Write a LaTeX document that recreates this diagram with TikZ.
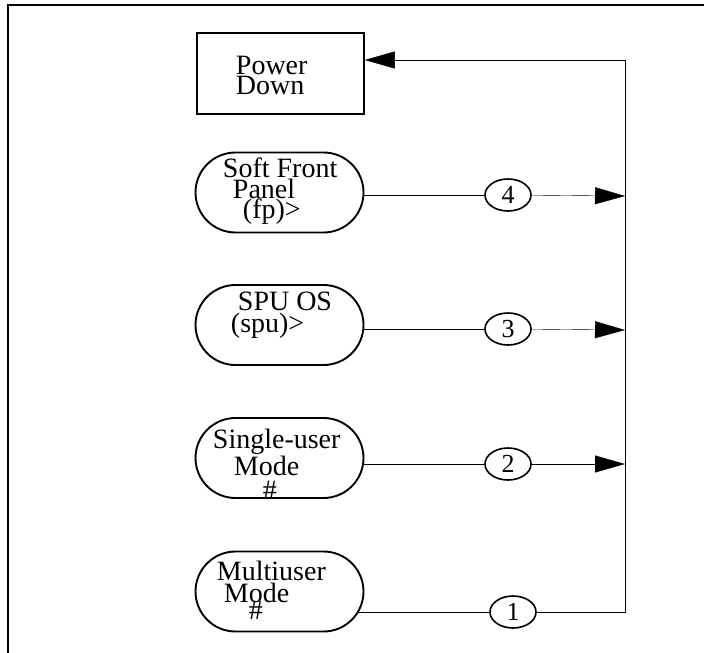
\documentclass[tikz,border=0pt]{standalone}
\usepackage{fontspec}
\setmainfont{Liberation Serif}
\usetikzlibrary{arrows.meta,shapes.geometric,backgrounds}
\tikzset{
  modebox/.style={draw,rounded corners=40pt,minimum width=168pt,minimum height=80pt,fill=white},
  downbox/.style={draw,minimum width=167pt,minimum height=81pt,fill=white,line width=1.6pt},
  modetext/.style={anchor=base west,inner sep=0pt,font=\fontsize{28}{21}\selectfont},
  stepnum/.style={draw,ellipse,minimum width=46pt,minimum height=32pt,inner sep=0pt,fill=white,line width=1.6pt,font=\fontsize{26}{26}\selectfont},
  flowarrow/.style={-{Triangle[length=30pt,width=17pt]}},
}
\begin{document}
\begin{tikzpicture}[x=1pt,y=-1pt,line width=1.9pt]
\useasboundingbox (0,0) rectangle (704,653);
\draw (8,653) -- (8,5) -- (704,5);
\node[downbox] (power) at (280.5,73.5) {};
\node[modebox] (soft) at (279.5,192.5) {};
\node[modebox] (spu) at (279.5,325) {};
\node[modebox] (single) at (279.5,458) {};
\node[modebox] (multi) at (279.5,591.5) {};
\node[modetext] (powertext) at (235,74) {\vtop{\hbox{Power}\vskip-1pt\hbox{Down}}};
\node[modetext] (softtext) at (222,177) {\vtop{\hbox{Soft Front}\hbox{\hskip10pt Panel}\vskip-1pt\hbox{\hskip20pt (fp)>}}};
\node[modetext] (sputext) at (230,310) {\vtop{\hbox{\hskip7pt SPU OS}\vskip1pt\hbox{(spu)>}}};
\node[modetext] (singletext) at (212,448) {\vtop{\hbox{Single-user}\vskip1pt\hbox{\hskip21pt Mode}\vskip3pt\hbox{\hskip50pt\#}}};
\node[modetext] (multitext) at (216,580) {\vtop{\hbox{Multiuser}\vskip1pt\hbox{\hskip7pt Mode}\vskip-4pt\hbox{\hskip32pt\#}}};
\node[stepnum] (n4) at (508,195) {4};
\node[stepnum] (n3) at (508,329) {3};
\node[stepnum] (n2) at (508,464) {2};
\node[stepnum] (n1) at (513,612) {1};
\coordinate (bus4) at (625,196);
\coordinate (bus3) at (625,330);
\coordinate (bus2) at (625,464);
\coordinate (corner) at (625,612);
\coordinate (top) at (625,60);
\begin{pgfonlayer}{background}
\draw (soft.center |- n4) -- (n4);
\draw (spu.center |- n3) -- (n3);
\draw (single.center |- n2) -- (n2);
\draw (multi.center |- n1) -- (n1);
\end{pgfonlayer}
\draw[flowarrow] (n4) -- (bus4);
\draw[flowarrow] (n3) -- (bus3);
\draw[flowarrow] (n2) -- (bus2);
\draw[flowarrow] (n1) -- (corner) -- (top) -- (power.east |- top);
\end{tikzpicture}
\end{document}
